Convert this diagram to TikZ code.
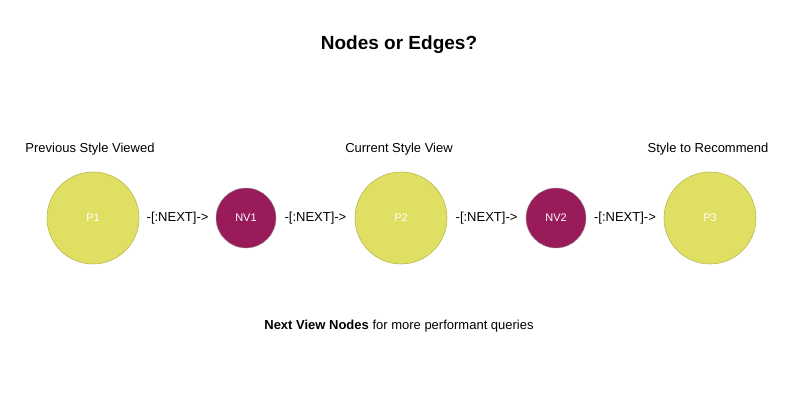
\documentclass[tikz,border=0pt]{standalone}
\usepackage{fontspec}
\setmainfont{Liberation Sans}
\begin{document}
\begin{tikzpicture}[x=1pt,y=-1pt,
  big/.style={circle,draw={rgb,255:red,185;green,185;blue,80},fill={rgb,255:red,223;green,223;blue,100},line width=0.6pt,minimum size=92pt,inner sep=0pt,text=white,font=\fontsize{11}{13}\selectfont},
  small/.style={circle,draw=black!40,fill={rgb,255:red,153;green,27;blue,90},line width=0.4pt,minimum size=60pt,inner sep=0pt,text=white,font=\fontsize{11}{13}\selectfont},
  rel/.style={font=\fontsize{13}{15}\selectfont,inner sep=0pt},
  captext/.style={font=\fontsize{13}{15}\selectfont}]
\useasboundingbox (0,0) rectangle (799,418);
\node[font=\bfseries\fontsize{19}{22}\selectfont] (title) at (399,45) {Nodes or Edges?};
\node[big] (p1) at (93,218) {P1};
\node[small] (nv1) at (246,218) {NV1};
\node[big] (p2) at (401,218) {P2};
\node[small] (nv2) at (556,218) {NV2};
\node[big] (p3) at (710,218) {P3};
\path (p1) -- node[rel] (r1) {-[:NEXT]->} (nv1);
\path (nv1) -- node[rel] (r2) {-[:NEXT]->} (p2);
\path (p2) -- node[rel] (r3) {-[:NEXT]->} (nv2);
\path (nv2) -- node[rel] (r4) {-[:NEXT]->} (p3);
\node[captext] (c1) at (90,149) {Previous Style Viewed};
\node[captext] (c2) at (399,149) {Current Style View};
\node[captext] (c3) at (708,149) {Style to Recommend};
\node[captext] (foot) at (399,326) {\textbf{Next View Nodes} for more performant queries};
\end{tikzpicture}
\end{document}
